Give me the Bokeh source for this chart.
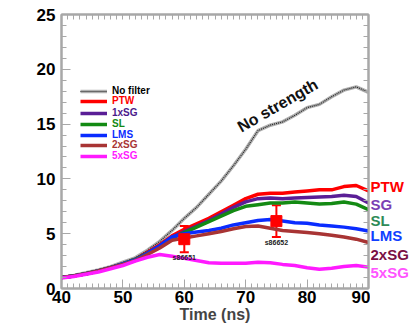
from bokeh.plotting import figure
from bokeh.layouts import row
from bokeh.models import (Range1d, FixedTicker, LinearAxis, Legend, LegendItem,
                          Label, Whisker, ColumnDataSource, TeeHead)
from bokeh.core.properties import value
from bokeh.embed import file_html
from bokeh.resources import INLINE

# Time grid (ns)
time_ns = [40, 42, 44, 46, 48, 50, 52, 54, 56, 58, 60, 62, 64, 66, 68, 70,
           72, 74, 76, 78, 80, 82, 84, 86, 88, 90]

no_strength = [1.0, 1.2, 1.45, 1.7, 2.0, 2.4, 2.8, 3.5, 4.3, 5.3, 6.4, 7.4, 8.6,
               9.8, 11.2, 12.7, 14.4, 14.9, 15.2, 15.8, 16.5, 16.8, 17.5, 18.1,
               18.4, 17.9]
ptw = [1.0, 1.15, 1.35, 1.6, 1.9, 2.25, 2.65, 3.3, 4.0, 4.8, 5.4, 5.9, 6.4, 7.0,
       7.6, 8.2, 8.6, 8.7, 8.7, 8.8, 8.9, 9.0, 9.0, 9.3, 9.4, 8.9]
sg1 = [1.0, 1.15, 1.35, 1.6, 1.9, 2.25, 2.65, 3.25, 3.9, 4.7, 5.2, 5.7, 6.2, 6.8,
       7.4, 7.9, 8.2, 8.25, 8.2, 8.25, 8.3, 8.35, 8.4, 8.5, 8.4, 7.8]
sl = [1.0, 1.15, 1.35, 1.6, 1.9, 2.25, 2.65, 3.2, 3.8, 4.6, 5.1, 5.6, 6.1, 6.6,
      7.1, 7.5, 7.65, 7.8, 7.8, 7.9, 7.8, 7.7, 7.75, 7.9, 7.7, 7.2]
lms = [1.0, 1.15, 1.35, 1.6, 1.9, 2.25, 2.6, 3.2, 3.9, 4.7, 5.0, 5.15, 5.3, 5.5,
       5.8, 6.0, 6.2, 6.3, 6.15, 6.0, 5.95, 5.8, 5.7, 5.6, 5.45, 5.25]
sg2 = [1.0, 1.15, 1.35, 1.6, 1.9, 2.2, 2.55, 3.1, 3.7, 4.4, 4.6, 4.8, 5.0, 5.2,
       5.45, 5.65, 5.7, 5.5, 5.3, 5.2, 5.1, 5.0, 4.85, 4.7, 4.5, 4.2]
sg5 = [0.95, 1.1, 1.3, 1.5, 1.8, 2.1, 2.5, 2.85, 3.1, 2.95, 2.75, 2.55, 2.35, 2.3,
       2.3, 2.3, 2.4, 2.35, 2.2, 2.1, 1.9, 1.75, 1.85, 2.0, 2.1, 1.95]

# Measured points with error bars
meas_t = [60, 75]
meas_v = [4.5, 6.15]
meas_hi = [5.7, 7.6]
meas_lo = [3.3, 4.7]
meas_tags = ["s86651", "s86652"]

x_ticks = [40, 50, 60, 70, 80, 90]
y_ticks = [0, 5, 10, 15, 20, 25]

# Tags written beside the right edge, with the level they sit at
tag_names = ["PTW", "SG", "SL", "LMS", "2xSG", "5xSG"]
tag_levels = [9.3, 7.7, 6.2, 4.8, 3.1, 1.5]
tag_colors = ["#ff0000", "#7a3fb4", "#2e8b57", "#1040ff", "#7a1044", "#ff55ff"]

FONT = "Liberation Sans"
GRAY = "#a8a8a8"

p = figure(width=370, height=325, output_backend="svg", toolbar_location=None,
           x_range=Range1d(40, 90), y_range=Range1d(0, 25),
           min_border_left=61, min_border_right=2, min_border_top=14,
           min_border_bottom=37)
p.background_fill_color = "white"
p.border_fill_color = "white"
p.xgrid.visible = False
p.ygrid.visible = False
p.outline_line_color = GRAY
p.outline_line_width = 2

p.xaxis.ticker = FixedTicker(ticks=x_ticks, minor_ticks=list(range(40, 91)))
p.yaxis.ticker = FixedTicker(ticks=y_ticks, minor_ticks=list(range(0, 26)))
for ax in (p.xaxis[0], p.yaxis[0]):
    ax.axis_line_color = GRAY
    ax.axis_line_width = 2
    ax.major_tick_line_color = GRAY
    ax.minor_tick_line_color = GRAY
    ax.major_tick_in = 9
    ax.major_tick_out = 0
    ax.minor_tick_in = 5
    ax.minor_tick_out = 0
    ax.major_label_text_font = FONT
    ax.major_label_text_font_style = "bold"
    ax.major_label_text_font_size = "17px"
    ax.major_label_text_color = "black"
p.xaxis.major_label_standoff = 2
p.yaxis.major_label_standoff = 6
p.xaxis.axis_label = "Time (ns)"
p.xaxis.axis_label_text_font = FONT
p.xaxis.axis_label_text_font_style = "bold"
p.xaxis.axis_label_text_font_size = "16px"
p.xaxis.axis_label_standoff = 0

# Ruler-style frame on the top and right edges (tick marks only)
for side_name in ("above", "right"):
    minor = list(range(40, 91)) if side_name == "above" else list(range(0, 26))
    ax = LinearAxis(ticker=FixedTicker(ticks=[], minor_ticks=minor),
                    axis_line_color=GRAY, axis_line_width=2,
                    minor_tick_line_color=GRAY,
                    minor_tick_in=5, minor_tick_out=0)
    p.add_layout(ax, side_name)

# Curves
r_ns_halo = p.line(time_ns, no_strength, line_color="#b0b0b0", line_width=3.5)
r_ns = p.line(time_ns, no_strength, line_color="#222222", line_width=1.2,
              line_dash="1 1")
series = [
    ("PTW", ptw, "#ff0000", "#ff0000"),
    ("1xSG", sg1, "#5a1e96", "#4b1a8c"),
    ("SL", sl, "#138a13", "#138a13"),
    ("LMS", lms, "#0a2cff", "#0a2cff"),
    ("2xSG", sg2, "#a83434", "#a83434"),
    ("5xSG", sg5, "#ff1aff", "#ff1aff"),
]
renderers = []
for name, vals, col, _ in series:
    renderers.append(p.line(time_ns, vals, line_color=col, line_width=3.5))

# Measurements
src = ColumnDataSource(dict(t=meas_t, v=meas_v, hi=meas_hi, lo=meas_lo,
                            tag=meas_tags))
p.add_layout(Whisker(source=src, base="t", upper="hi", lower="lo",
                     line_color="#ff0000", line_width=2,
                     upper_head=TeeHead(size=9, line_color="#ff0000", line_width=2),
                     lower_head=TeeHead(size=9, line_color="#ff0000", line_width=2)))
p.scatter("t", "v", source=src, marker="square", size=11, color="#ff0000")
p.text("t", "lo", text="tag", source=src, text_font_size="7px",
       text_font_style="bold", text_color="#222222", text_align="center",
       text_baseline="top", y_offset=2)

# Legend entries, each in its own colour
legend_rows = [("No filter", [r_ns_halo, r_ns], "black", 91)]
for (name, vals, col, tcol), r, cy in zip(series, renderers,
                                          [101, 113, 124, 135, 145, 156]):
    legend_rows.append((name, [r], tcol, cy))
for label, rs, tcol, cy in legend_rows:
    lg = Legend(items=[LegendItem(label=label, renderers=rs)],
                location=(19, 288 - cy - 5),
                padding=0, margin=0, spacing=0,
                glyph_width=27, glyph_height=10, label_height=10,
                label_standoff=5, background_fill_alpha=0,
                border_line_alpha=0, label_text_font=FONT,
                label_text_font_style="bold", label_text_font_size="10px",
                label_text_color=tcol, label_text_baseline="middle")
    p.add_layout(lg)

# Curve annotation
p.add_layout(Label(x=75.2, y=16.7, text="No strength", angle=30,
                   angle_units="deg", text_font=FONT, text_font_style="bold",
                   text_font_size="16px", text_color="#111111",
                   text_align="center", text_baseline="middle"))

# Narrow side panel sharing the y scale, holding the series tags
side = figure(width=46, height=325, output_backend="svg", toolbar_location=None,
              x_range=Range1d(0, 1), y_range=p.y_range,
              x_axis_location=None, y_axis_location=None,
              min_border_left=0, min_border_right=0, min_border_top=14,
              min_border_bottom=37)
side.xgrid.visible = False
side.ygrid.visible = False
side.outline_line_color = None
side.background_fill_color = "white"
side.border_fill_color = "white"
side.text(x=[0.0] * len(tag_names), y=tag_levels, text=tag_names,
          text_color=tag_colors, text_font=value(FONT),
          text_font_style="bold", text_font_size="15px",
          text_baseline="middle", text_align="left")

layout = row(p, side, spacing=0)
open("out.html", "w").write(file_html(layout, INLINE))
